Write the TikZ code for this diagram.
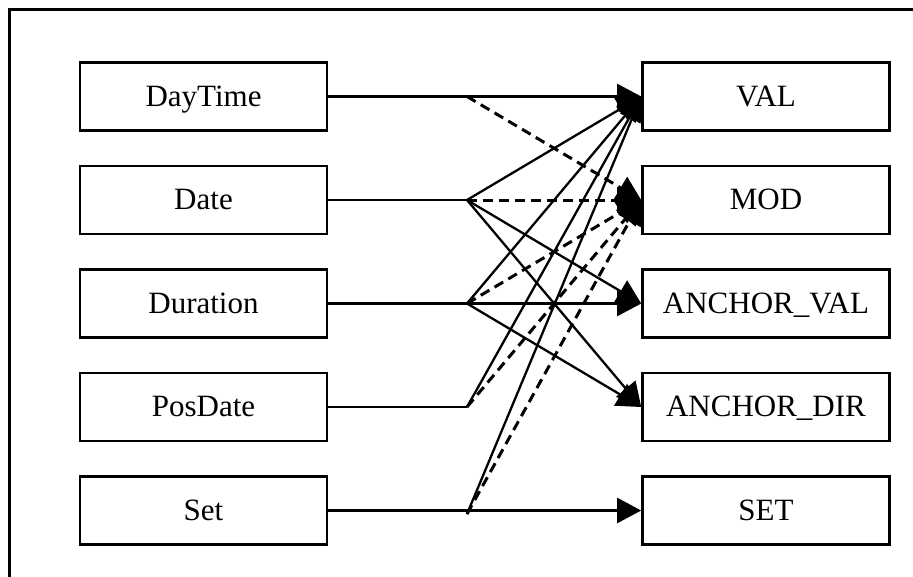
\documentclass[tikz,border=0pt]{standalone}
\usepackage{fontspec}
\setmainfont{Liberation Serif}
\usetikzlibrary{arrows.meta}

\tikzset{
  box/.style={draw, line width=2.6pt, minimum width=247pt, minimum height=68pt,
    inner sep=0pt, text height=19pt, text depth=0pt,
    font=\fontsize{31}{36}\selectfont},
  link/.style={line width=2.3pt},
  arrowlink/.style={link, -{Triangle[length=24pt, width=25pt]}},
  dashlink/.style={line width=3pt, dash pattern=on 10pt off 6pt,
    -{Triangle[length=24pt, width=25pt]}},
}

\begin{document}
\begin{tikzpicture}[x=1pt, y=-1pt]
  \clip (0,0) rectangle (913,576);
  \useasboundingbox (0,0) rectangle (913,576);

  % outer frame, running past the right and lower edges
  \draw[line width=3pt] (9,9) rectangle (940,600);

  % source boxes
  \node[box] (daytime)  at (203.5, 96.5) {DayTime};
  \node[box] (date)     at (203.5, 200)  {Date};
  \node[box] (duration) at (203.5, 303.5) {Duration};
  \node[box] (posdate)  at (203.5, 407)  {PosDate};
  \node[box] (set)      at (203.5, 510.5) {Set};

  % target boxes
  \node[box] (val)  at (766, 96.5)  {VAL};
  \node[box] (mod)  at (766, 200)   {MOD};
  \node[box] (aval) at (766, 303.5) {ANCHOR\_VAL};
  \node[box] (adir) at (766, 407)   {ANCHOR\_DIR};
  \node[box] (sett) at (766, 510.5) {SET};

  % branch points
  \coordinate (bDT) at (467, 96.5);
  \coordinate (bDa) at (467, 200);
  \coordinate (bDu) at (467, 303.5);
  \coordinate (bPD) at (467, 407);
  \coordinate (bSe) at (467, 510.5);
  \coordinate (bSe2) at (467, 514);

  % stubs from the source boxes
  \draw[link] (daytime.east) -- (bDT);
  \draw[link] (date.east) -- (bDa);
  \draw[link] (duration.east) -- (bDu);
  \draw[link] (posdate.east) -- (bPD);
  \draw[link] (set.east) -- (bSe);

  % solid arrows to VAL
  \draw[arrowlink] (bDT) -- (val.west);
  \draw[arrowlink] (bDa) -- (val.west);
  \draw[arrowlink] (bDu) -- (val.west);
  \draw[arrowlink] (bPD) -- (val.west);
  \draw[arrowlink] (bSe2) -- (val.west);

  % dashed arrows to MOD
  \draw[dashlink] (bDT) -- (mod.west);
  \draw[dashlink] (bDa) -- (mod.west);
  \draw[dashlink] (bDu) -- (mod.west);
  \draw[dashlink] (bPD) -- (mod.west);
  \draw[dashlink] (bSe2) -- (mod.west);

  % anchor arrows
  \draw[arrowlink] (bDa) -- (aval.west);
  \draw[arrowlink] (bDa) -- (adir.west);
  \draw[arrowlink] (bDu) -- (aval.west);
  \draw[arrowlink] (bDu) -- (adir.west);

  % set arrow
  \draw[arrowlink] (bSe) -- (sett.west);
\end{tikzpicture}
\end{document}
